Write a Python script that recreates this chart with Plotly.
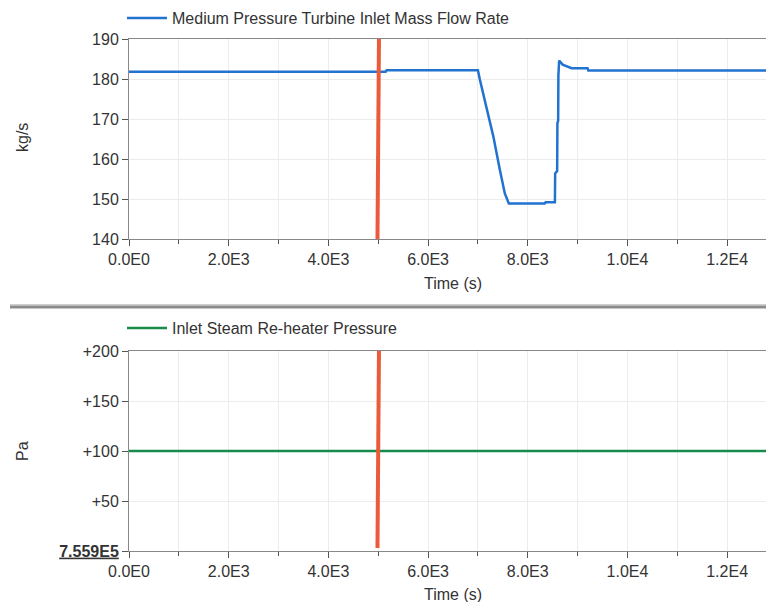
import plotly.graph_objects as go

# ---- data ----
time_flow = [0, 5000, 5150, 5170, 7000, 7040, 7175, 7310, 7440, 7540, 7620,
             8340, 8360, 8545, 8550, 8590, 8595, 8610, 8615, 8630, 8700, 8880,
             9200, 9215, 12780]
mass_flow = [181.8, 181.8, 181.8, 182.2, 182.2, 179.8, 173.0, 165.6, 157.3, 151.4, 148.9,
             148.9, 149.2, 149.2, 156.4, 157.0, 169.0, 169.5, 181.0, 184.6, 183.6, 182.7,
             182.7, 182.1, 182.1]

time_press = [0, 12780]
reheater_press = [756000, 756000]

event_time = [4985, 5015]

x_ticks = [0, 2000, 4000, 6000, 8000, 10000, 12000]
x_ticktext = ["0.0E0", "2.0E3", "4.0E3", "6.0E3", "8.0E3", "1.0E4", "1.2E4"]

flow_ticks = [140, 150, 160, 170, 180, 190]
press_ticks = [755900, 755950, 756000, 756050, 756100]
press_ticktext = ["<b><span style='text-decoration:underline'>7.559E5</span></b>",
                  "+50", "+100", "+150", "+200"]

# ---- layout helpers (pixel -> paper) ----
W, H = 766, 602
def px(x):
    return x / W
def py(y):
    return 1 - y / H

FONT = "Liberation Sans, Arial, sans-serif"
FS = 16
BLUE = "#2272d0"
GREEN = "#178a4c"
RED = "#ec5a3c"
X_MAX = 12780

fig = go.Figure()

fig.add_trace(go.Scatter(x=time_flow, y=mass_flow, mode="lines",
                         name="Medium Pressure Turbine Inlet Mass Flow Rate",
                         line=dict(color=BLUE, width=2.5),
                         xaxis="x", yaxis="y", legend="legend"))
fig.add_trace(go.Scatter(x=event_time, y=[140, 190], mode="lines",
                         line=dict(color=RED, width=4), showlegend=False,
                         xaxis="x", yaxis="y"))

fig.add_trace(go.Scatter(x=time_press, y=reheater_press, mode="lines",
                         name="Inlet Steam Re-heater Pressure",
                         line=dict(color=GREEN, width=2.5),
                         xaxis="x2", yaxis="y2", legend="legend2"))
fig.add_trace(go.Scatter(x=event_time, y=[755903, 756100], mode="lines",
                         line=dict(color=RED, width=4), showlegend=False,
                         xaxis="x2", yaxis="y2"))

x_common = dict(
    range=[0, X_MAX], tickvals=x_ticks, ticktext=x_ticktext,
    showline=True, linecolor="#888", linewidth=1, mirror=True,
    ticks="outside", ticklen=6, tickcolor="#555",
    showgrid=True, gridcolor="#ececec",
    minor=dict(dtick=1000, tick0=0, ticks="outside", ticklen=4, tickcolor="#555",
               showgrid=True, gridcolor="#ececec"),
    tickfont=dict(size=FS, color="#333", family=FONT),
    zeroline=False, domain=[px(129), 1], automargin=False,
)
y_common = dict(
    showline=True, linecolor="#888", linewidth=1,
    ticks="outside", ticklen=6, tickcolor="#555",
    showgrid=True, gridcolor="#ececec",
    tickfont=dict(size=FS, color="#333", family=FONT),
    zeroline=False, automargin=False,
)

legend_common = dict(xanchor="left", yanchor="middle", bgcolor="rgba(0,0,0,0)",
                     itemwidth=40, font=dict(size=FS, color="#333", family=FONT))

fig.update_layout(
    width=W, height=H,
    margin=dict(l=0, r=0, t=0, b=0, pad=0, autoexpand=False),
    paper_bgcolor="white", plot_bgcolor="white",
    font=dict(family=FONT, color="#333"),
    xaxis=dict(x_common, anchor="y"),
    yaxis=dict(y_common, range=[140, 190], tickvals=flow_ticks,
               domain=[py(239), py(39)], anchor="x"),
    xaxis2=dict(x_common, anchor="y2"),
    yaxis2=dict(y_common, range=[755900, 756100], tickvals=press_ticks,
                ticktext=press_ticktext, domain=[py(551), py(351)], anchor="x2"),
    legend=dict(legend_common, x=px(122), y=py(18)),
    legend2=dict(legend_common, x=px(122), y=py(328)),
    showlegend=True,
)

# axis titles
title_font = dict(size=FS, color="#333", family=FONT)
def axis_title(x, y, text, angle=0):
    fig.add_annotation(x=px(x), y=py(y), xref="paper", yref="paper", text=text,
                       textangle=angle, showarrow=False, font=title_font,
                       xanchor="center", yanchor="middle")

axis_title(22, 138, "kg/s", -90)
axis_title(453, 283, "Time (s)")
axis_title(22, 451, "Pa", -90)
axis_title(453, 594, "Time (s)")

# divider between the two panels
fig.add_shape(type="rect", xref="paper", yref="paper", x0=px(10), x1=1,
              y0=py(305.5), y1=py(304), line_width=0, fillcolor="#cfcfcf")
fig.add_shape(type="rect", xref="paper", yref="paper", x0=px(10), x1=1,
              y0=py(308.5), y1=py(305.5), line_width=0, fillcolor="#8c8c8c")

fig.write_html("out.html")
